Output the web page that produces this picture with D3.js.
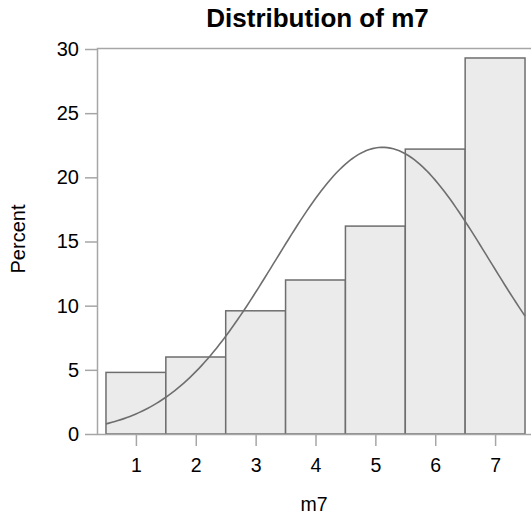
<!DOCTYPE html>
<html>
<head>
<meta charset="utf-8">
<script src="https://cdn.jsdelivr.net/npm/d3@7"></script>
<style>
  body { margin: 0; background: #fff; }
  text { font-family: "Liberation Sans", Arial, sans-serif; fill: #000; }
</style>
</head>
<body>
<div id="chart"></div>
<script>
// histogram bins (midpoints) and percent per bin
let midpoints = [1, 2, 3, 4, 5, 6, 7];
let percents = [4.8, 6.0, 9.6, 12.0, 16.2, 22.2, 29.3];
let yTicks = [0, 5, 10, 15, 20, 25, 30];
// fitted normal curve parameters
let normalMean = 5.12;
let normalSd = 1.786;
let binWidth = 1;

let width = 531, height = 521;
let plot = { left: 97, top: 48, right: 534, bottom: 434 };

let svg = d3.select("#chart").append("svg")
  .attr("width", width)
  .attr("height", height);

let x = d3.scaleLinear().domain([0.35, 7.65]).range([plot.left, plot.right]);
let y = d3.scaleLinear().domain([0, 30]).range([plot.bottom, plot.top + 1]);

// bars
svg.append("g").selectAll("rect")
  .data(midpoints)
  .join("rect")
  .attr("x", function(d) { return x(d - binWidth / 2); })
  .attr("y", function(d, i) { return y(percents[i]); })
  .attr("width", function(d) { return x(d + binWidth / 2) - x(d - binWidth / 2); })
  .attr("height", function(d, i) { return y(0) - y(percents[i]); })
  .attr("fill", "#ebebeb")
  .attr("stroke", "#6e6e6e")
  .attr("stroke-width", 1.5);

// normal curve
let density = function(v) {
  let z = (v - normalMean) / normalSd;
  return 100 * binWidth * Math.exp(-0.5 * z * z) / (normalSd * Math.sqrt(2 * Math.PI));
};
let curveX = d3.range(0.5, 7.5001, 0.05);
let line = d3.line()
  .x(function(d) { return x(d); })
  .y(function(d) { return y(density(d)); });
svg.append("path")
  .datum(curveX)
  .attr("d", line)
  .attr("fill", "none")
  .attr("stroke", "#6e6e6e")
  .attr("stroke-width", 1.6);

// frame
svg.append("rect")
  .attr("x", plot.left + 0.5)
  .attr("y", plot.top + 0.5)
  .attr("width", plot.right - plot.left)
  .attr("height", plot.bottom - plot.top)
  .attr("fill", "none")
  .attr("stroke", "#a6a6a6")
  .attr("stroke-width", 1.5);

// y axis
let yAxis = d3.axisLeft(y).tickValues(yTicks).tickSize(12).tickPadding(6);
let gy = svg.append("g")
  .attr("transform", "translate(" + (plot.left) + ",0)")
  .call(yAxis);
gy.select(".domain").remove();
gy.selectAll("line").attr("stroke", "#a6a6a6").attr("stroke-width", 1.5);
gy.selectAll("text").style("font-size", "20px").attr("fill", "#000");

// x axis
let xAxis = d3.axisBottom(x).tickValues(midpoints).tickSize(11).tickPadding(12);
let gx = svg.append("g")
  .attr("transform", "translate(0," + (plot.bottom + 1) + ")")
  .call(xAxis);
gx.select(".domain").remove();
gx.selectAll("line").attr("stroke", "#a6a6a6").attr("stroke-width", 1.5);
gx.selectAll("text").style("font-size", "19.5px").attr("fill", "#000");

// titles
svg.append("text")
  .attr("x", 317.5)
  .attr("y", 26.5)
  .attr("text-anchor", "middle")
  .style("font-size", "26px")
  .style("font-weight", "bold")
  .text("Distribution of m7");

svg.append("text")
  .attr("x", 314)
  .attr("y", 510.5)
  .attr("text-anchor", "middle")
  .style("font-size", "19.5px")
  .text("m7");

svg.append("text")
  .attr("transform", "translate(24.5,239) rotate(-90)")
  .attr("text-anchor", "middle")
  .style("font-size", "20px")
  .text("Percent");
</script>
</body>
</html>
